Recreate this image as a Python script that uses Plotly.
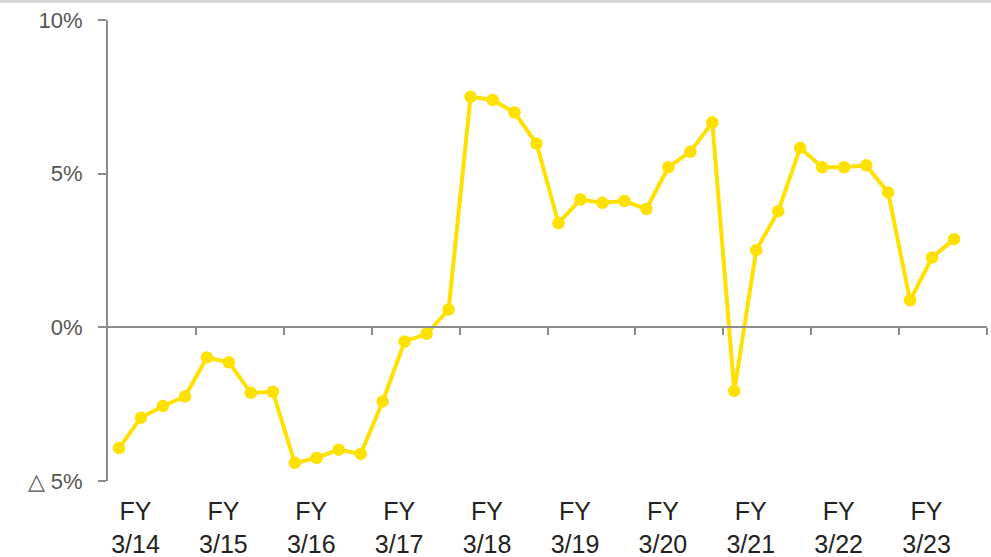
import plotly.graph_objects as go

fiscal_years = ["3/14", "3/15", "3/16", "3/17", "3/18", "3/19", "3/20", "3/21", "3/22", "3/23"]
quarters_per_year = 4
growth_pct = [
    -3.93, -2.94, -2.56, -2.25,
    -0.98, -1.14, -2.13, -2.10,
    -4.41, -4.25, -3.98, -4.12,
    -2.41, -0.46, -0.21, 0.58,
    7.50, 7.40, 6.99, 5.98,
    3.39, 4.16, 4.05, 4.11,
    3.85, 5.21, 5.71, 6.67,
    -2.07, 2.51, 3.78, 5.84,
    5.21, 5.21, 5.27, 4.39,
    0.88, 2.27, 2.87,
]
y_tick_vals = [-5, 0, 5, 10]
y_tick_text = ["△ 5%", "0%", "5%", "10%"]

n_slots = len(fiscal_years) * quarters_per_year
x_idx = list(range(len(growth_pct)))
x_range = [-0.5, n_slots - 0.5]

label_pos = [i * quarters_per_year + 0.75 for i in range(len(fiscal_years))]
label_text = [f"FY<br>{fy}" for fy in fiscal_years]
boundary_ticks = [i * quarters_per_year - 0.5 for i in range(1, len(fiscal_years) + 1)]

YELLOW = "#FFE100"
GRAY = "#8C8C8C"

fig = go.Figure()
fig.add_trace(go.Scatter(
    x=x_idx, y=growth_pct, mode="lines+markers",
    line=dict(color=YELLOW, width=4),
    marker=dict(color=YELLOW, size=12.5),
    showlegend=False, hoverinfo="y",
))
# companion trace so the zero-line axis is drawn
fig.add_trace(go.Scatter(
    x=x_idx, y=growth_pct, xaxis="x2", mode="lines",
    line=dict(width=0), opacity=0, showlegend=False, hoverinfo="skip",
))

fig.update_layout(
    width=991, height=557,
    margin=dict(l=108, r=4, t=20, b=76),
    paper_bgcolor="white", plot_bgcolor="white",
    font=dict(family="Liberation Sans, Arial, sans-serif"),
    xaxis=dict(
        range=x_range, tickmode="array", tickvals=label_pos, ticktext=label_text,
        showline=False, showgrid=False, zeroline=False, ticks="",
        tickfont=dict(size=25, color="#222222"), ticklabelstandoff=13,
        automargin=False,
    ),
    xaxis2=dict(
        range=x_range, overlaying="x", anchor="free", position=1/3, side="bottom",
        tickmode="array", tickvals=boundary_ticks, showticklabels=False,
        showline=True, linecolor=GRAY, linewidth=2,
        ticks="outside", ticklen=7, tickwidth=1.5, tickcolor=GRAY,
        showgrid=False, zeroline=False, automargin=False,
    ),
    yaxis=dict(
        range=[-5, 10], tickmode="array", tickvals=y_tick_vals, ticktext=y_tick_text,
        showline=True, linecolor=GRAY, linewidth=2,
        ticks="outside", ticklen=8, tickwidth=1.5, tickcolor=GRAY,
        showgrid=False, zeroline=False, automargin=False,
        tickfont=dict(size=22, color="#555555"), ticklabelstandoff=11,
    ),
    shapes=[dict(
        type="rect", xref="paper", yref="paper",
        x0=-108/879, x1=1 + 4/879, y0=1 + 17/461, y1=1 + 21/461,
        fillcolor="#D9D9D9", line=dict(width=0), layer="below",
    )],
)

fig.write_html(
    "out.html",
    config={"displayModeBar": False},
    post_script="document.body.style.margin='0';",
)
